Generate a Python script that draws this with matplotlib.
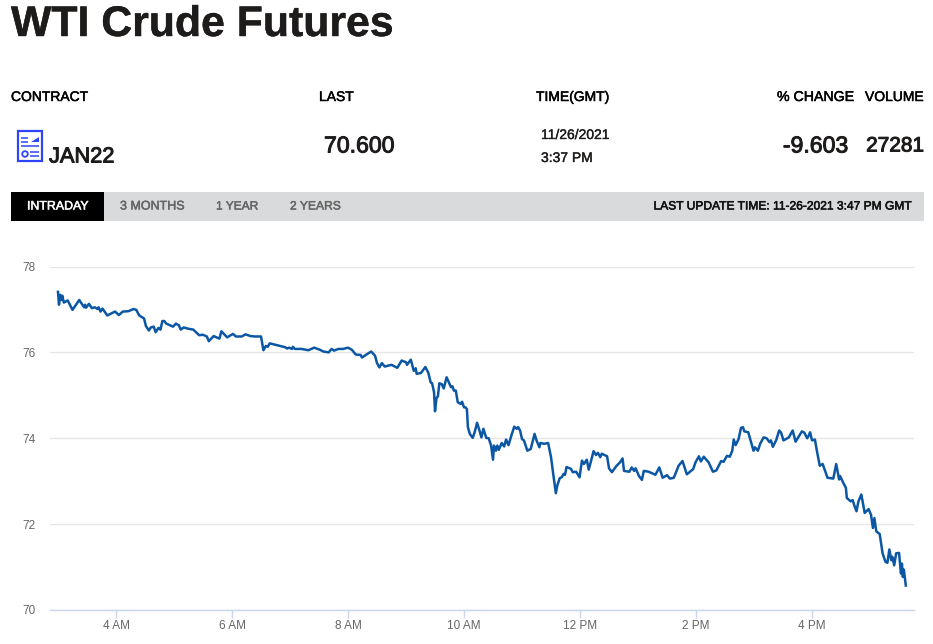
import matplotlib
matplotlib.use("Agg")
import matplotlib.pyplot as plt
from matplotlib.patches import Rectangle, Circle
import matplotlib.patheffects as pe

minutes = [0,1,2.4,3.5,4.5,6,10,15,22,27,28,29,32,35,38,41,42,44,46,51,59,63,67,73,78,81,84,89,91,94,96,99,101,104,106,108,110,112,119,122,125,127,130,135,140,146,150,154,156,161,165,167,169,175,181,184,190,194,199,204,210,212.5,215,217,219,226,235,237,239,242,243,245,252,259,265,
271,274.5,280,283,285.5,290,295,300,304,308,313,314.5,319,324,328,330,332.5,335,338,345,351,355.5,360,361,365,368,370,371,375.5,380,383,385.5,387,389,390,391.5,393,394.5,397,399,402,406.5,408,409.5,411.5,413.5,416.5,418,420,421.5,423,424,426,429,431,433.5,436,438,440,443,445.5,448,450,451,453,454.5,456,459,461.5,463.5,466,469.5,472,474.5,476,478,480,482,485.5,489,493,495,498,499,503,507,510,512.5,515,516.5,519,521,523,524.5,526,530.5,532.5,536,539.5,542,544,547,549,551.5,554,556.5,558.5,561,562.5,568,570,573,577.5,
581.4,584,585.5,591,593.5,596,597.5,601,604,606,611,618,622,625.5,630,633,637,642,646,650.5,657,659.5,663,665,668,673,677.5,681,686,688.5,692,695,697.5,699,701,704,706.5,708.5,710,714,718,719.5,721,724,726.5,730,733,736,737.5,739.5,743,746,748,750.5,756,760,763,769.5,772,775,776.5,778,780,783,785,788,791,796,802,805,808,809,813,815,816,820,822,824,826,828,831,834.5,838.5,841,843,844.5,846.5,850,853,856,858,860,862,863,865,867,870,872,873,874,875,877]
prices = [77.41,77.11,77.34,77.22,77.32,77.16,77.21,76.99,77.22,77.05,77.11,77.04,77.13,77.03,77.05,77.01,77.05,76.95,77.02,76.86,76.95,76.87,76.95,76.96,77.01,76.99,76.86,76.79,76.61,76.51,76.58,76.60,76.47,76.57,76.53,76.73,76.73,76.67,76.60,76.67,76.63,76.53,76.58,76.55,76.53,76.40,76.41,76.37,76.26,76.38,76.34,76.32,76.49,76.35,76.43,76.37,76.37,76.42,76.38,76.37,76.37,76.05,76.15,76.13,76.21,76.17,76.12,76.09,76.11,76.08,76.13,76.08,76.08,76.05,76.11,
76.06,76.02,76.00,76.08,76.04,76.08,76.08,76.11,76.06,75.95,75.94,75.88,75.95,76.02,75.92,75.75,75.65,75.75,75.67,75.71,75.64,75.81,75.77,75.71,75.83,75.57,75.63,75.50,75.52,75.66,75.53,75.30,75.28,75.07,74.63,74.93,74.98,75.28,75.26,75.16,75.42,75.19,75.21,75.11,75.11,74.84,74.80,74.85,74.72,74.72,74.68,74.26,74.10,74.01,74.14,74.36,74.18,74.02,74.22,74.01,74.00,73.83,73.50,73.83,73.71,73.83,73.73,73.89,73.81,73.97,73.84,74.10,74.27,74.22,74.26,74.18,73.98,73.95,73.71,73.75,74.10,73.95,73.79,73.89,73.87,73.89,73.56,73.13,72.72,72.90,73.07,73.09,73.17,73.15,73.33,73.29,73.21,73.22,73.09,73.48,73.40,73.50,73.27,73.48,73.70,73.61,73.66,73.56,73.64,73.58,73.30,73.21,73.35,
73.44,73.53,73.24,73.22,73.32,73.24,73.30,73.12,73.03,73.24,73.22,73.15,73.32,73.08,73.14,73.06,73.08,73.36,73.47,73.16,73.28,73.44,73.58,73.46,73.57,73.44,73.22,73.25,73.47,73.45,73.59,73.57,73.71,73.97,73.84,73.98,74.24,74.26,74.16,74.14,73.83,73.71,73.79,73.71,73.88,74.02,74.00,73.91,73.95,73.80,73.96,74.18,74.13,73.95,74.02,74.18,73.92,74.16,74.13,74.00,74.06,74.14,73.95,73.97,73.71,73.36,73.40,73.08,73.06,73.40,73.04,73.12,72.93,72.85,72.61,72.53,72.56,72.42,72.30,72.53,72.69,72.26,72.35,72.22,71.91,72.14,71.83,71.77,71.32,71.12,71.10,71.41,71.16,71.24,71.04,71.32,71.33,70.85,71.08,70.77,70.94,70.57]
y_ticks = [70, 72, 74, 76, 78]
x_ticks = [60, 180, 300, 420, 540, 660, 780]
x_labels = ["4 AM", "6 AM", "8 AM", "10 AM", "12 PM", "2 PM", "4 PM"]
columns = ["CONTRACT", "LAST", "TIME(GMT)", "% CHANGE", "VOLUME"]
tabs = ["INTRADAY", "3 MONTHS", "1 YEAR", "2 YEARS"]

W, H = 933, 644
FONT = "Liberation Sans"
plt.rcParams["font.family"] = [FONT, "DejaVu Sans"]
fig = plt.figure(figsize=(W/100, H/100), dpi=100, facecolor="white")

bg = fig.add_axes([0, 0, 1, 1])
bg.set_xlim(0, W); bg.set_ylim(H, 0); bg.axis("off")
INK = "#1e1b1b"

def label(x, y, s, size, color=INK, ha="left", stroke=0.35, **kw):
    t = bg.text(x, y, s, fontsize=size, color=color, ha=ha, va="center", **kw)
    if stroke:
        t.set_path_effects([pe.withStroke(linewidth=stroke, foreground=color)])
    return t

label(11, 25, "WTI Crude Futures", 30.8, fontweight="bold", stroke=0.3)
label(11, 97, columns[0], 10, color="black")
label(319, 97, columns[1], 10, color="black")
label(536, 97, columns[2], 10, color="black")
label(777, 97, columns[3], 10.2, color="black")
label(865, 97, columns[4], 10, color="black")
label(49, 157, "JAN22", 15.7, stroke=0.7)
label(324, 146, "70.600", 16.6, stroke=0.7)
label(541, 135, "11/26/2021", 10, stroke=0.25)
label(541, 158, "3:37 PM", 10, stroke=0.25)
label(848, 146, "-9.603", 16.6, ha="right", stroke=0.7)
label(924, 146, "27281", 15, ha="right", stroke=0.7)

# document icon
BLUE = "#2e45f5"
bg.add_patch(Rectangle((18, 131), 24, 30, fill=False, ec=BLUE, lw=1.6))
for x0, x1, y in [(21, 28, 137.5), (21, 28, 141.5), (21, 39, 145.5), (30, 39, 152), (30, 39, 156)]:
    bg.plot([x0, x1], [y, y], color=BLUE, lw=1.1, solid_capstyle="butt")
bg.fill([31, 39, 39, 31], [142, 137, 142, 142], color=BLUE, lw=0)
bg.add_patch(Circle((25, 154), 2.8, fill=False, ec=BLUE, lw=1.3))

# tab bar
bg.add_patch(Rectangle((11, 192), 913, 29, fc="#d9dadb", ec="none"))
bg.add_patch(Rectangle((11, 192), 93, 29, fc="black", ec="none"))
label(27, 206.5, tabs[0], 8.9, color="white")
label(120, 206.5, tabs[1], 9, color="#666666")
label(216, 206.5, tabs[2], 8.6, color="#666666")
label(290, 206.5, tabs[3], 8.7, color="#666666")
label(912, 206.5, "LAST UPDATE TIME: 11-26-2021 3:47 PM GMT", 8.65, color="#111111", ha="right", stroke=0.4)

# chart
L, R, T, B = 50, 914, 266.5, 610
ax = fig.add_axes([L/W, 1-B/H, (R-L)/W, (B-T)/H])
ax.patch.set_alpha(0)
ax.set_xlim((L-58)/0.9667, (R-58)/0.9667)
ax.set_ylim(70, 78)
for s in ["top", "left", "right"]:
    ax.spines[s].set_visible(False)
ax.spines["bottom"].set_color("#ccd6eb")
ax.spines["bottom"].set_linewidth(1)
ax.set_yticks(y_ticks)
ax.set_xticks(x_ticks)
ax.set_xticklabels(x_labels)
ax.grid(axis="y", color="#e6e6e6", lw=1)
ax.set_axisbelow(True)
ax.tick_params(axis="y", length=0, pad=10.5, labelsize=8.5, labelcolor="#666666")
ax.tick_params(axis="x", length=6, width=1, color="#ccd6eb", pad=1.5, labelsize=8.5, labelcolor="#666666")
ax.plot(minutes, prices, color="#0b57a4", lw=1.8, solid_joinstyle="round", clip_on=False)

fig.savefig("out.png", dpi=100)
